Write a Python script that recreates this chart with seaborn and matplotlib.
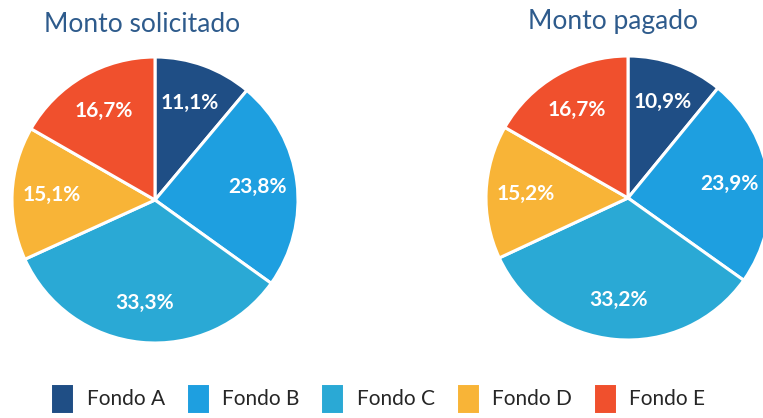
import matplotlib
matplotlib.use("Agg")
import matplotlib.pyplot as plt
import seaborn as sns

# Data
fondos = ["Fondo A", "Fondo B", "Fondo C", "Fondo D", "Fondo E"]
solicitado = [11.1, 23.8, 33.3, 15.1, 16.7]
pagado = [10.9, 23.9, 33.2, 15.2, 16.7]
titles = ["Monto solicitado", "Monto pagado"]

sns.set_theme(style="white")
plt.rcParams['font.family'] = ['Lato', 'DejaVu Sans']

colors = sns.color_palette(["#1F4E85", "#1E9FE0", "#2AA9D5", "#F8B437", "#F0502D"])

fig = plt.figure(figsize=(7.63, 4.18), dpi=100)

# axes boxes in figure fractions (left, bottom, width, height)
W, H = 763, 418
boxes = [
    ((155 - 143) / W, (418 - 343) / H, 286 / W, 286 / H),
    ((628 - 142) / W, (418 - 340) / H, 284 / W, 284 / H),
]
title_pos = [(142 / W, 1 - 25 / H), (613 / W, 1 - 22 / H)]

def fmt(p):
    return f"{p:.1f}%".replace(".", ",")

wedges_all = []
for vals, box, title, tpos in zip([solicitado, pagado], boxes, titles, title_pos):
    ax = fig.add_axes(box)
    wedges, _, autotexts = ax.pie(
        vals, colors=colors, startangle=90, counterclock=False,
        autopct=fmt, pctdistance=0.72,
        wedgeprops=dict(edgecolor="white", linewidth=2.2),
        textprops=dict(color="white", fontsize=15, fontweight="bold"),
    )
    ax.set_xlim(-1, 1)
    ax.set_ylim(-1, 1)
    ax.set_aspect("equal")
    wedges_all.append(wedges)
    fig.text(tpos[0], tpos[1], title, ha="center", va="center",
             fontsize=19, color="#2E5B8C")

fig.legend(wedges_all[0], fondos, loc="lower center", ncol=5,
           bbox_to_anchor=(0.495, -0.035), frameon=False,
           fontsize=15, handlelength=1.15, handleheight=1.9,
           columnspacing=1.0, handletextpad=0.6)

fig.savefig("out.png", dpi=100)
